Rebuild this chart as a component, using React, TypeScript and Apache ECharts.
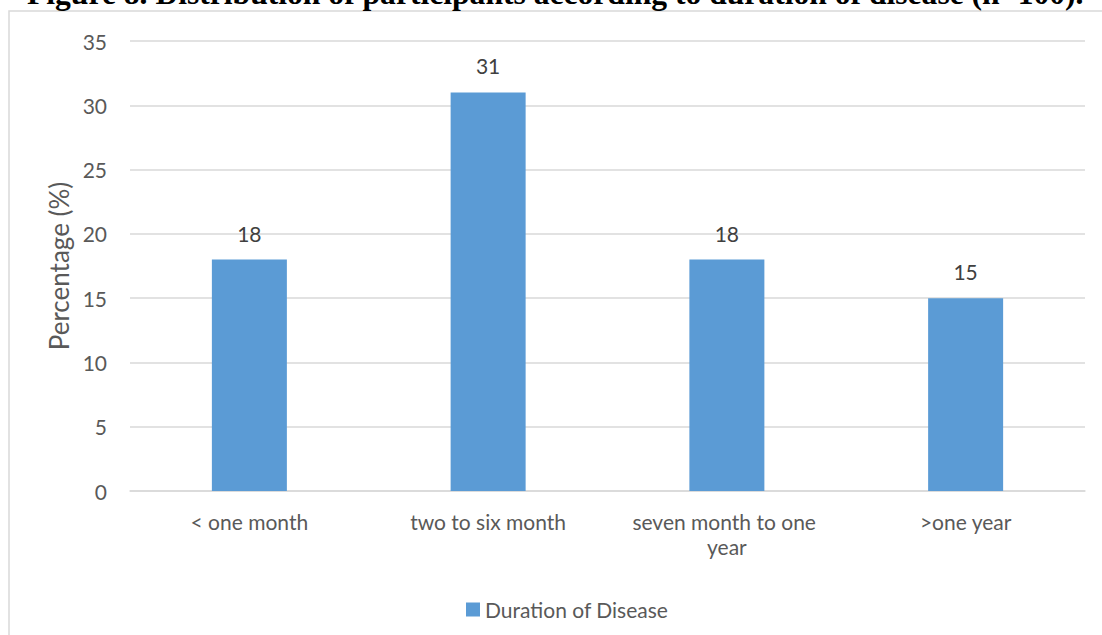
import React, { useEffect, useRef } from "react";
import * as echarts from "echarts";

// Chart data
const categories = ["< one month", "two to six month", "seven month to one year", ">one year"];
const percentages = [18, 31, 18, 15];
const seriesName = "Duration of Disease";
const titleText = "Figure 8. Distribution of participants according to duration of disease (n=100).";
const yAxisName = "Percentage (%)";

const TEXT = "#595959";
const GRID = "#d9d9d9";
const FONT = "Lato, 'Open Sans', sans-serif";

export default function App() {
  const ref = useRef<HTMLDivElement>(null);

  useEffect(() => {
    if (!ref.current) return;
    const chart = echarts.init(ref.current, undefined, { renderer: "svg" });
    chart.setOption({
      animation: false,
      backgroundColor: "#ffffff",
      title: {
        text: titleText,
        left: 22,
        top: -28,
        textStyle: {
          fontFamily: "'Liberation Serif', 'Times New Roman', serif",
          fontWeight: "bold",
          fontSize: 31.6,
          color: "#000000",
        },
      },
      graphic: [
        {
          type: "rect",
          silent: true,
          z: -1,
          shape: { x: 9, y: 11, width: 1200, height: 700 },
          style: { fill: "none", stroke: GRID, lineWidth: 1.5 },
        },
      ],
      grid: { left: 130, right: 17, top: 41, bottom: 144, containLabel: false },
      legend: {
        data: [seriesName],
        left: 461,
        top: 594,
        itemWidth: 14,
        itemHeight: 14,
        icon: "rect",
        itemGap: 7,
        textStyle: { color: TEXT, fontFamily: FONT, fontSize: 21 },
      },
      xAxis: {
        type: "category",
        data: categories,
        axisLine: { show: true, lineStyle: { color: GRID, width: 1.5 } },
        axisTick: { show: false },
        axisLabel: {
          color: TEXT,
          fontFamily: FONT,
          fontSize: 21,
          margin: 18,
          lineHeight: 25,
          width: 205,
          overflow: "break",
          interval: 0,
        },
      },
      yAxis: {
        type: "value",
        min: 0,
        max: 35,
        interval: 5,
        name: yAxisName,
        nameLocation: "middle",
        nameGap: 55,
        nameTextStyle: { color: TEXT, fontFamily: FONT, fontSize: 26 },
        axisLine: { show: false },
        axisTick: { show: false },
        axisLabel: { color: TEXT, fontFamily: FONT, fontSize: 21, margin: 23 },
        splitLine: { lineStyle: { color: GRID, width: 1.5 } },
      },
      series: [
        {
          name: seriesName,
          type: "bar",
          data: percentages,
          barWidth: 75,
          itemStyle: { color: "#5b9bd5" },
          label: {
            show: true,
            position: "top",
            distance: 16,
            color: "#404040",
            fontFamily: FONT,
            fontSize: 21,
          },
        },
      ],
    });
    return () => chart.dispose();
  }, []);

  return (
    <div
      ref={ref}
      style={{ position: "fixed", left: 0, top: 0, width: 1102, height: 635 }}
    />
  );
}
